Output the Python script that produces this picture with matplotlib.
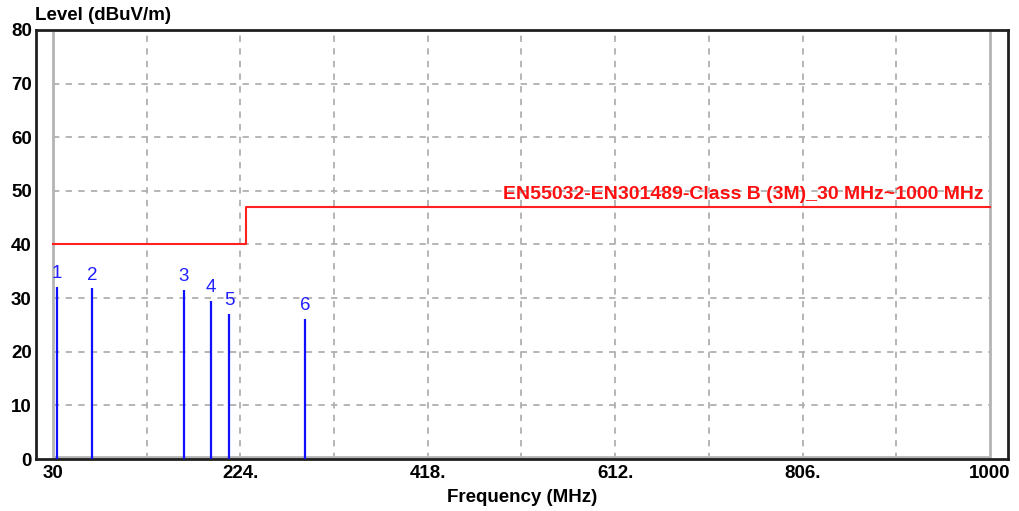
import matplotlib
matplotlib.use('Agg')
import matplotlib.pyplot as plt

plt.rcParams['font.family'] = ['Liberation Sans', 'DejaVu Sans']

# limit line
limit_freq = [30, 230, 230, 1000]
limit_level = [40, 40, 47, 47]
limit_name = 'EN55032-EN301489-Class B (3M)_30 MHz~1000 MHz'

# measured peaks
peak_ids = ['1', '2', '3', '4', '5', '6']
peak_freq = [33.8, 70.4, 165.3, 193.6, 212.2, 291.2]
peak_level = [32.1, 31.8, 31.5, 29.5, 27.0, 26.1]

xtick_vals = [30, 224, 418, 612, 806, 1000]
xtick_labels = ['30', '224.', '418.', '612.', '806.', '1000']
ytick_vals = [0, 10, 20, 30, 40, 50, 60, 70, 80]

W, H = 1019, 511
fig = plt.figure(figsize=(W / 100, H / 100), dpi=100)
ax = fig.add_axes([36 / W, (H - 459) / H, (1008 - 36) / W, (459 - 30) / H])

# 30 MHz sits at px 53 and 1000 MHz at px 990, frame spans 36..1008
ppm = (990 - 53) / 970
ax.set_xlim(30 - 17 / ppm, 1000 + 18 / ppm)
ax.set_ylim(0, 80)

# grid
for gx in [30 + 97 * k for k in range(1, 10)]:
    ax.axvline(gx, color='#b0b0b0', lw=1.3, ls=(0, (3.5, 3.5)), zorder=1)
for gy in ytick_vals[1:-1]:
    ax.axhline(gy, color='#b0b0b0', lw=1.3, ls=(0, (3.5, 3.5)), xmin=0.0175, xmax=0.982, zorder=1)
# inner gray border
ax.plot([30, 30, 1000, 1000], [80, 0.35, 0.35, 80], color='#b4b4b4', lw=2, zorder=2)

# limit line
ax.plot(limit_freq, limit_level, color='#ff2020', lw=1.5, zorder=3)
ax.text(993, 47.7, limit_name, color='#ff1010', fontsize=14, fontweight='bold',
        ha='right', va='bottom', zorder=4)

# peaks
for pid, f, lv in zip(peak_ids, peak_freq, peak_level):
    ax.vlines(f, 0, lv, color='#1010ff', lw=1.6, zorder=3)
    ax.text(f, lv + 0.9, pid, color='#2020ff', fontsize=13.5, ha='center', va='bottom', zorder=4)

for s in ax.spines.values():
    s.set_linewidth(2)
    s.set_color('#202020')

ax.set_xticks(xtick_vals)
ax.set_xticklabels(xtick_labels)
ax.set_yticks(ytick_vals)
ax.tick_params(length=0, labelsize=13.5, pad=3)
for lab in ax.get_xticklabels() + ax.get_yticklabels():
    lab.set_fontweight('bold')
ax.tick_params(axis='x', pad=4)

fig.text(522 / W, 1 - 497 / H, 'Frequency (MHz)', ha='center', va='center',
         fontsize=13.5, fontweight='bold')
fig.text(35 / W, 1 - 15 / H, 'Level (dBuV/m)', ha='left', va='center',
         fontsize=13.5, fontweight='bold')

fig.savefig('out.png', dpi=100)
